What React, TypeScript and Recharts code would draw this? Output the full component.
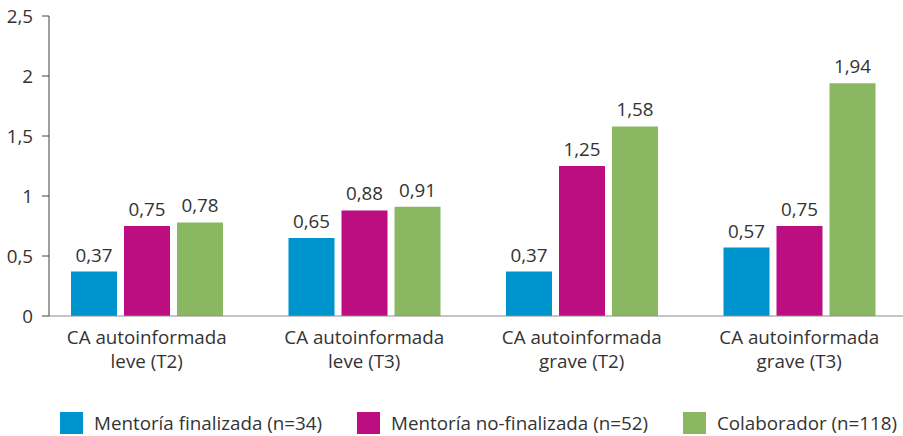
import React from "react";
import { BarChart, Bar, XAxis, YAxis, Legend, LabelList } from "recharts";

const categories = [
  "CA autoinformada\nleve (T2)",
  "CA autoinformada\nleve (T3)",
  "CA autoinformada\ngrave (T2)",
  "CA autoinformada\ngrave (T3)",
];
const finalizada = [0.37, 0.65, 0.37, 0.57];
const noFinalizada = [0.75, 0.88, 1.25, 0.75];
const colaborador = [0.78, 0.91, 1.58, 1.94];
const yTicks = [0, 0.5, 1, 1.5, 2, 2.5];

const seriesNames = [
  "Mentoría finalizada (n=34)",
  "Mentoría no-finalizada (n=52)",
  "Colaborador (n=118)",
];

const data = categories.map((c, i) => ({
  name: c,
  fin: finalizada[i],
  nofin: noFinalizada[i],
  col: colaborador[i],
}));

const TEXT = "#333333";
const FS = 18.8;
const comma = (v: any) => String(v).replace(".", ",");

const CategoryTick = (props: any) => {
  const { x, y, payload } = props;
  const lines = String(payload.value).split("\n");
  return (
    <text x={x} y={y} textAnchor="middle" fill={TEXT} fontSize={FS}>
      {lines.map((l, i) => (
        <tspan key={i} x={x} dy={i === 0 ? 20 : 24}>
          {l}
        </tspan>
      ))}
    </text>
  );
};

const LegendBox = (props: any) => {
  const items = [...(props.payload || [])].sort(
    (a: any, b: any) => seriesNames.indexOf(a.value) - seriesNames.indexOf(b.value)
  );
  return (
    <div style={{ display: "flex", height: 26, paddingLeft: 60, gap: 35, alignItems: "center", whiteSpace: "nowrap", width: 903, boxSizing: "border-box" }}>
      {items.map((it: any) => (
        <div key={it.value} style={{ display: "flex", alignItems: "center", flexShrink: 0 }}>
          <span style={{ width: 23, height: 22, background: it.color, display: "inline-block", marginRight: 11 }} />
          <span style={{ fontSize: FS, color: TEXT, lineHeight: "22px" }}>{it.value}</span>
        </div>
      ))}
    </div>
  );
};

export default function App() {
  return (
    <div style={{ position: "absolute", left: 0, top: 0, fontFamily: "'Open Sans', sans-serif" }}>
      <BarChart
        width={903}
        height={436}
        data={data}
        margin={{ top: 16, right: 0, left: 0, bottom: 0 }}
        barGap={7}
        barSize={46}
      >
        <XAxis
          dataKey="name"
          height={94}
          padding={{ left: -11, right: -5 }}
          tickLine={false}
          axisLine={{ stroke: "#8c8c8c" }}
          tick={<CategoryTick />}
          interval={0}
        />
        <YAxis
          width={49}
          domain={[0, 2.5]}
          ticks={yTicks}
          tickFormatter={comma}
          tickSize={7}
          tickMargin={9}
          axisLine={{ stroke: "#404040" }}
          tickLine={{ stroke: "#404040" }}
          tick={{ fill: TEXT, fontSize: FS }}
        />
        <Legend verticalAlign="bottom" align="left" width={903} itemSorter={null as any} content={<LegendBox />} />
        <Bar dataKey="fin" name={seriesNames[0]} fill="#0094CF" isAnimationActive={false}>
          <LabelList dataKey="fin" position="top" offset={10} formatter={comma} fill={TEXT} fontSize={FS} />
        </Bar>
        <Bar dataKey="nofin" name={seriesNames[1]} fill="#BC0E80" isAnimationActive={false}>
          <LabelList dataKey="nofin" position="top" offset={10} formatter={comma} fill={TEXT} fontSize={FS} />
        </Bar>
        <Bar dataKey="col" name={seriesNames[2]} fill="#8AB862" isAnimationActive={false}>
          <LabelList dataKey="col" position="top" offset={10} formatter={comma} fill={TEXT} fontSize={FS} />
        </Bar>
      </BarChart>
    </div>
  );
}
